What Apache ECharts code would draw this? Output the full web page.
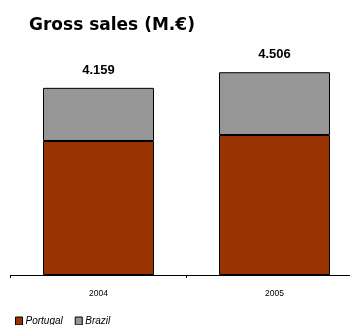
<!DOCTYPE html>
<html><head><meta charset="utf-8">
<script src="https://cdn.jsdelivr.net/npm/echarts@6/dist/echarts.min.js"></script>
<style>html,body{margin:0;padding:0;background:#fff}#c{width:350px;height:325px}</style>
</head><body><div id="c"></div>
<script>
var categories = ['2004', '2005'];
var portugal = [2978, 3111];
var brazil = [1181, 1395];
var totals = [4159, 4506];
var titleText = 'Gross sales (M.€)';

function fmt(v){ return String(v).replace(/\B(?=(\d{3})+(?!\d))/g, '.'); }

var chart = echarts.init(document.getElementById('c'), null, {renderer:'canvas'});
chart.setOption({
  animation:false,
  title:{text:titleText,left:24,top:12,textStyle:{fontFamily:'DejaVu Sans',fontWeight:'bold',fontSize:17,color:'#000'}},
  legend:{left:10,bottom:-6,itemWidth:7,itemHeight:8,itemGap:12,icon:'rect',
    textStyle:{fontFamily:'Liberation Sans',fontStyle:'italic',fontSize:10,color:'#000',padding:[0,0,0,-2]},
    data:[{name:'Portugal',itemStyle:{borderColor:'#000',borderWidth:1}},{name:'Brazil',itemStyle:{borderColor:'#000',borderWidth:1}}]},
  grid:{left:10.5,width:352,top:50,bottom:50,containLabel:false,outerBoundsMode:'none'},
  xAxis:{type:'category',data:categories,
    axisLine:{lineStyle:{color:'#000',width:1}},
    axisTick:{show:true,length:3,lineStyle:{color:'#000'}},
    axisLabel:{fontFamily:'Liberation Sans',fontSize:8.5,color:'#000',margin:14}},
  yAxis:{type:'value',min:0,max:5000,show:false,splitLine:{show:false}},
  series:[
    {name:'Portugal',type:'bar',stack:'a',data:portugal,barWidth:111,
      itemStyle:{color:'#993300',borderColor:'#000',borderWidth:1}},
    {name:'Brazil',type:'bar',stack:'a',data:brazil,barWidth:111,
      itemStyle:{color:'#969696',borderColor:'#000',borderWidth:1},
      label:{show:true,position:'top',distance:11,fontFamily:'Liberation Sans',fontWeight:'bold',fontSize:13,color:'#000',
        formatter:function(p){return fmt(totals[p.dataIndex]);}}}
  ]
});
</script></body></html>
